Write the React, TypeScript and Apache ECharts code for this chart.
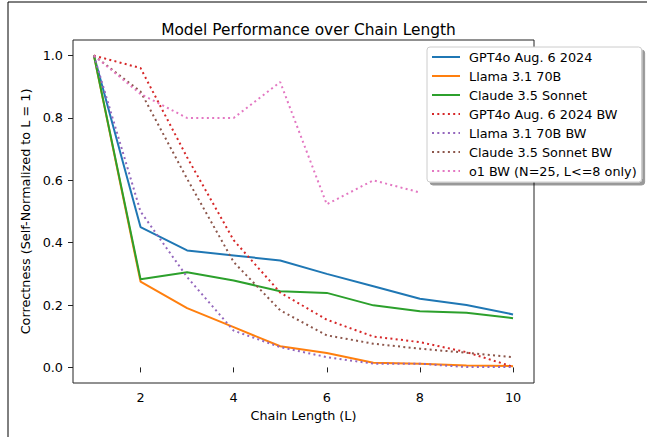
import React, { useEffect, useRef } from "react";
import * as echarts from "echarts";

const chainLengths = [1, 2, 3, 4, 5, 6, 7, 8, 9, 10];
const gpt4o = [1.0, 0.45, 0.375, 0.359, 0.343, 0.3, 0.26, 0.22, 0.2, 0.17];
const llama = [1.0, 0.275, 0.19, 0.129, 0.068, 0.046, 0.015, 0.012, 0.006, 0.004];
const claude = [1.0, 0.283, 0.305, 0.279, 0.244, 0.239, 0.199, 0.18, 0.175, 0.158];
const gpt4oBW = [1.0, 0.96, 0.674, 0.408, 0.24, 0.153, 0.099, 0.081, 0.049, 0.002];
const llamaBW = [1.0, 0.5, 0.29, 0.118, 0.065, 0.033, 0.012, 0.012, 0.001, 0.001];
const claudeBW = [1.0, 0.885, 0.605, 0.338, 0.183, 0.103, 0.076, 0.06, 0.047, 0.033];
const o1BW = [1.0, 0.877, 0.8, 0.8, 0.915, 0.523, 0.6, 0.561];

const xTicks = [2, 4, 6, 8, 10];
const yTicks = [0, 0.2, 0.4, 0.6, 0.8, 1.0];

const seriesNames = [
  "GPT4o Aug. 6 2024",
  "Llama 3.1 70B",
  "Claude 3.5 Sonnet",
  "GPT4o Aug. 6 2024 BW",
  "Llama 3.1 70B BW",
  "Claude 3.5 Sonnet BW",
  "o1 BW (N=25, L<=8 only)",
];
const seriesValues = [gpt4o, llama, claude, gpt4oBW, llamaBW, claudeBW, o1BW];
const colors = ["#1f77b4", "#ff7f0e", "#2ca02c", "#d62728", "#9467bd", "#8c564b", "#e377c2"];
const dotted = [false, false, false, true, true, true, true];

const FONT = "DejaVu Sans";
const FS = 12.8;

export default function App() {
  const ref = useRef<HTMLDivElement>(null);
  useEffect(() => {
    if (!ref.current) return;
    const chart = echarts.init(ref.current, null, { renderer: "svg" });
    const series = seriesNames.map((name, i) => ({
      name,
      type: "line",
      data: seriesValues[i].map((v, j) => [chainLengths[j], v]),
      symbol: "none",
      showSymbol: false,
      lineStyle: {
        color: colors[i],
        width: 2,
        type: dotted[i] ? [2, 3.3] : "solid",
      },
      itemStyle: { color: colors[i] },
      z: 2 + i,
    }));
    chart.setOption({
      animation: false,
      backgroundColor: "#ffffff",
      textStyle: { fontFamily: FONT },
      title: {
        text: "Model Performance over Chain Length",
        left: 303.5,
        textAlign: "center",
        top: 17,
        textStyle: { fontFamily: FONT, fontSize: 15.4, fontWeight: "normal", color: "#000" },
      },
      grid: {
        left: 73,
        right: 113,
        top: 40,
        bottom: 54,
        show: true,
        borderColor: "#222",
        borderWidth: 1,
        backgroundColor: "transparent",
      },
      xAxis: {
        type: "value",
        min: 0.55,
        max: 10.45,
        name: "Chain Length (L)",
        nameLocation: "middle",
        nameGap: 26,
        nameTextStyle: { fontFamily: FONT, fontSize: FS, color: "#000" },
        axisLine: { show: false },
        splitLine: { show: false },
        axisTick: { show: true, length: 5, lineStyle: { color: "#222" }, customValues: xTicks },
        axisLabel: {
          fontFamily: FONT,
          fontSize: FS,
          color: "#000",
          margin: 8,
          customValues: xTicks,
          formatter: (v: number) => String(v),
        },
      },
      yAxis: {
        type: "value",
        min: -0.05,
        max: 1.05,
        name: "Correctness (Self-Normalized to L = 1)",
        nameLocation: "middle",
        nameGap: 31,
        nameTextStyle: { fontFamily: FONT, fontSize: FS, color: "#000" },
        axisLine: { show: false },
        splitLine: { show: false },
        axisTick: { show: true, length: 5, lineStyle: { color: "#222" }, customValues: yTicks },
        axisLabel: {
          fontFamily: FONT,
          fontSize: FS,
          color: "#000",
          margin: 10,
          customValues: yTicks,
          formatter: (v: number) => v.toFixed(1),
        },
      },
      legend: {
        orient: "vertical",
        left: 427,
        top: 47,
        itemWidth: 28,
        itemHeight: 12,
        itemGap: 5,
        padding: [3, 5, 4, 4],
        backgroundColor: "#ffffff",
        borderColor: "#cccccc",
        borderWidth: 1,
        borderRadius: 3,
        shadowColor: "rgba(0,0,0,0.4)",
        shadowBlur: 1,
        shadowOffsetX: 3,
        shadowOffsetY: 3,
        itemStyle: { opacity: 0 },
        textStyle: {
          fontFamily: FONT,
          fontSize: FS,
          color: "#000",
          lineHeight: 14,
          padding: [0, 0, 0, 4],
        },
        data: seriesNames,
      },
      graphic: [
        { type: "line", shape: { x1: 8, y1: 2, x2: 660, y2: 2 }, style: { stroke: "#000", lineWidth: 1 }, silent: true },
        { type: "line", shape: { x1: 8, y1: 2, x2: 8, y2: 450 }, style: { stroke: "#000", lineWidth: 1 }, silent: true },
      ],
      series,
    });
    return () => chart.dispose();
  }, []);
  return (
    <div
      ref={ref}
      style={{ position: "fixed", left: 0, top: 0, width: 647, height: 437 }}
    />
  );
}
